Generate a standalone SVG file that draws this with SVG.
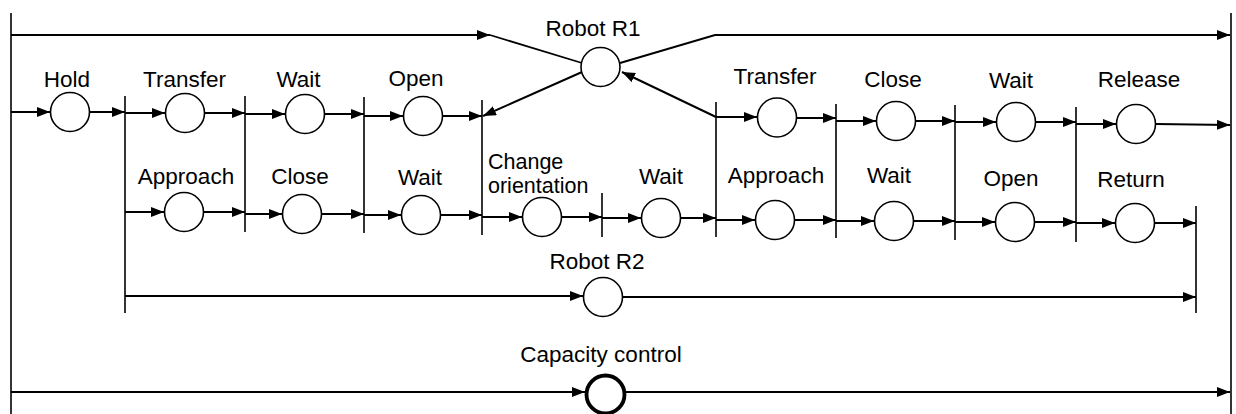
<svg xmlns="http://www.w3.org/2000/svg" width="1236" height="414" viewBox="0 0 1236 414">
<defs>
<marker id="ah" markerUnits="userSpaceOnUse" markerWidth="14" markerHeight="12" refX="13" refY="5" orient="auto">
<path d="M0,0 L13,5 L0,10 z" fill="#000"/>
</marker>
<style>
.lbl{font-family:"Liberation Sans",Arial,sans-serif;font-size:22.5px;fill:#000;text-anchor:middle}
.lbs{font-family:"Liberation Sans",Arial,sans-serif;font-size:21.5px;fill:#000}
.pl{fill:#fff;stroke:#000;stroke-width:1.6}
.cap{fill:#fff;stroke:#000;stroke-width:3.8}
.ar{fill:none;stroke:#000;stroke-width:2;marker-end:url(#ah)}
.ln{fill:none;stroke:#000;stroke-width:1.8}
.bar{stroke:#000;stroke-width:1.6}
</style>
</defs>
<rect width="1236" height="414" fill="#fff"/>

<g id="frame">
<line class="bar" x1="11" y1="13" x2="11" y2="414"/>
<line class="bar" x1="1231" y1="13" x2="1231" y2="414"/>
</g>

<g id="transitions">
<line class="bar" x1="125" y1="96" x2="125" y2="313"/>
<line class="bar" x1="245" y1="96" x2="245" y2="232"/>
<line class="bar" x1="364" y1="97" x2="364" y2="233"/>
<line class="bar" x1="482" y1="100" x2="482" y2="235"/>
<line class="bar" x1="602" y1="193" x2="602" y2="237"/>
<line class="bar" x1="716" y1="102" x2="716" y2="237"/>
<line class="bar" x1="836" y1="104" x2="836" y2="238"/>
<line class="bar" x1="955" y1="105" x2="955" y2="240"/>
<line class="bar" x1="1076" y1="107" x2="1076" y2="242"/>
<line class="bar" x1="1196" y1="206" x2="1196" y2="313"/>
</g>

<g id="connectors">
<line class="ar" x1="11" y1="35" x2="490" y2="35"/>
<line class="ln" x1="490" y1="35" x2="582" y2="63"/>
<polyline class="ar" points="620,63 715,35 1230,35"/>
<line class="ar" x1="582" y1="72" x2="483" y2="116"/>
<line class="ar" x1="716" y1="117" x2="622" y2="72"/>
<line class="ar" x1="11" y1="112" x2="50" y2="112"/>
<line class="ar" x1="90" y1="112" x2="125" y2="112"/>
<line class="ar" x1="125" y1="113" x2="165" y2="113"/>
<line class="ar" x1="205" y1="113" x2="245" y2="113"/>
<line class="ar" x1="245" y1="114" x2="285" y2="114"/>
<line class="ar" x1="325" y1="114" x2="364" y2="114"/>
<line class="ar" x1="364" y1="116" x2="403" y2="116"/>
<line class="ar" x1="443" y1="116" x2="482" y2="116"/>
<line class="ar" x1="716" y1="117" x2="757" y2="117"/>
<line class="ar" x1="797" y1="118" x2="836" y2="118"/>
<line class="ar" x1="836" y1="121" x2="876" y2="121"/>
<line class="ar" x1="916" y1="121" x2="955" y2="121"/>
<line class="ar" x1="955" y1="122" x2="996" y2="122"/>
<line class="ar" x1="1036" y1="122" x2="1076" y2="122"/>
<line class="ar" x1="1076" y1="124" x2="1116" y2="124"/>
<line class="ar" x1="1156" y1="124" x2="1230" y2="125"/>
<line class="ar" x1="125" y1="212" x2="164" y2="212"/>
<line class="ar" x1="204" y1="212" x2="245" y2="212"/>
<line class="ar" x1="245" y1="214" x2="282" y2="214"/>
<line class="ar" x1="322" y1="214" x2="364" y2="214"/>
<line class="ar" x1="364" y1="215" x2="401" y2="215"/>
<line class="ar" x1="441" y1="215" x2="482" y2="215"/>
<line class="ar" x1="482" y1="217" x2="522" y2="217"/>
<line class="ar" x1="562" y1="217" x2="602" y2="217"/>
<line class="ar" x1="602" y1="218" x2="641" y2="218"/>
<line class="ar" x1="681" y1="218" x2="716" y2="218"/>
<line class="ar" x1="716" y1="220" x2="755" y2="220"/>
<line class="ar" x1="795" y1="220" x2="836" y2="220"/>
<line class="ar" x1="836" y1="221" x2="874" y2="221"/>
<line class="ar" x1="914" y1="221" x2="955" y2="221"/>
<line class="ar" x1="955" y1="222" x2="995" y2="222"/>
<line class="ar" x1="1035" y1="222" x2="1076" y2="222"/>
<line class="ar" x1="1076" y1="223" x2="1115" y2="223"/>
<line class="ar" x1="1155" y1="223" x2="1196" y2="223"/>
<line class="ar" x1="125" y1="296" x2="583" y2="296"/>
<line class="ar" x1="623" y1="297" x2="1196" y2="297"/>
<line class="ar" x1="11" y1="392" x2="585" y2="392"/>
<line class="ar" x1="625" y1="392" x2="1230" y2="392"/>
</g>

<g id="robot-r1"><circle class="pl" cx="600.5" cy="67" r="19.5"/><text class="lbl" x="593" y="36">Robot R1</text></g>
<g id="hold"><circle class="pl" cx="70" cy="112" r="19.5"/><text class="lbl" x="67" y="87">Hold</text></g>
<g id="transfer-1"><circle class="pl" cx="185" cy="113" r="19.5"/><text class="lbl" x="184.5" y="87">Transfer</text></g>
<g id="wait-1"><circle class="pl" cx="305" cy="114" r="19.5"/><text class="lbl" x="298.5" y="87">Wait</text></g>
<g id="open-1"><circle class="pl" cx="423" cy="116" r="19.5"/><text class="lbl" x="416" y="86">Open</text></g>
<g id="transfer-2"><circle class="pl" cx="777" cy="117.5" r="19.5"/><text class="lbl" x="775" y="84">Transfer</text></g>
<g id="close-1"><circle class="pl" cx="896" cy="121" r="19.5"/><text class="lbl" x="893" y="87">Close</text></g>
<g id="wait-2"><circle class="pl" cx="1016" cy="122" r="19.5"/><text class="lbl" x="1011" y="88">Wait</text></g>
<g id="release"><circle class="pl" cx="1136" cy="124" r="19.5"/><text class="lbl" x="1139" y="87">Release</text></g>

<g id="approach-1"><circle class="pl" cx="184" cy="212" r="19.5"/><text class="lbl" x="186" y="184">Approach</text></g>
<g id="close-2"><circle class="pl" cx="302" cy="214" r="19.5"/><text class="lbl" x="300" y="184">Close</text></g>
<g id="wait-3"><circle class="pl" cx="421" cy="215" r="19.5"/><text class="lbl" x="420" y="185">Wait</text></g>
<g id="change-orientation"><circle class="pl" cx="542" cy="217" r="19.5"/><text class="lbs" x="488" y="168.5">Change</text><text class="lbs" x="488" y="193">orientation</text></g>
<g id="wait-4"><circle class="pl" cx="661" cy="218" r="19.5"/><text class="lbl" x="661" y="184">Wait</text></g>
<g id="approach-2"><circle class="pl" cx="775" cy="220" r="19.5"/><text class="lbl" x="776" y="183">Approach</text></g>
<g id="wait-5"><circle class="pl" cx="894" cy="221" r="19.5"/><text class="lbl" x="889" y="183">Wait</text></g>
<g id="open-2"><circle class="pl" cx="1015" cy="222" r="19.5"/><text class="lbl" x="1011" y="186">Open</text></g>
<g id="return"><circle class="pl" cx="1135" cy="223" r="19.5"/><text class="lbl" x="1131" y="187">Return</text></g>

<g id="robot-r2"><circle class="pl" cx="603" cy="297" r="19.5"/><text class="lbl" x="597" y="269">Robot R2</text></g>
<g id="capacity-control"><circle class="cap" cx="605.5" cy="394.5" r="19"/><text class="lbl" x="601" y="362">Capacity control</text></g>
</svg>
